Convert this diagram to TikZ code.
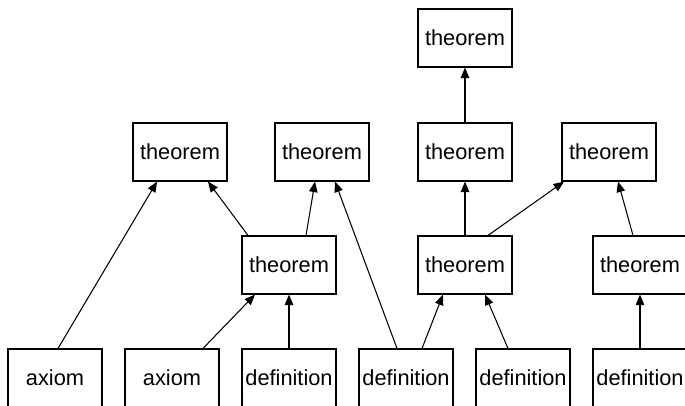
\documentclass[tikz,border=0pt]{standalone}
\usepackage{fontspec}
\setmainfont{Liberation Sans}
\usetikzlibrary{arrows.meta}
\tikzset{
  stmt/.style={draw,line width=0.65pt,minimum width=1.88cm,minimum height=1.16cm,inner sep=0pt,font=\fontsize{12.4}{14}\selectfont},
  dep/.style={->,line width=0.6pt}
}

\begin{document}
\begin{tikzpicture}[x=0.02cm,y=-0.02cm,line join=miter,>={Triangle[length=0.21cm,width=0.17cm]}]
  \clip (0,0) rectangle (685,405);
  % top level
  \node[stmt] (r1) at (465,38) {theorem};
  % second level
  \node[stmt] (r2a) at (180,152) {theorem};
  \node[stmt] (r2b) at (322,152) {theorem};
  \node[stmt] (r2c) at (465,152) {theorem};
  \node[stmt] (r2d) at (609,152) {theorem};
  % third level
  \node[stmt] (r3a) at (289,265) {theorem};
  \node[stmt] (r3b) at (465,265) {theorem};
  \node[stmt] (r3c) at (640,265) {theorem};
  % axioms and definitions, cut off at the bottom
  \node[stmt] (ax1) at (55,378) {axiom};
  \node[stmt] (ax2) at (172,378) {axiom};
  \node[stmt] (df1) at (289,378) {definition};
  \node[stmt] (df2) at (406,378) {definition};
  \node[stmt] (df3) at (523,378) {definition};
  \node[stmt] (df4) at (640,378) {definition};
  % dependencies
  \draw[dep] ([xshift=0.06cm]ax1.north) -- ([xshift=-0.46cm]r2a.south);
  \draw[dep] ([xshift=-0.82cm]r3a.north) -- ([xshift=0.56cm]r2a.south);
  \draw[dep] ([xshift=0.34cm]r3a.north) -- ([xshift=-0.14cm]r2b.south);
  \draw[dep] ([xshift=-0.18cm]df2.north) -- ([xshift=0.26cm]r2b.south);
  \draw[dep] ([xshift=0.62cm]ax2.north) -- ([xshift=-0.68cm]r3a.south);
  \draw[dep] (df1.north) -- (r3a.south);
  \draw[dep] ([xshift=0.32cm]df2.north) -- ([xshift=-0.44cm]r3b.south);
  \draw[dep] ([xshift=-0.3cm]df3.north) -- ([xshift=0.4cm]r3b.south);
  \draw[dep] (df4.north) -- (r3c.south);
  \draw[dep] (r3b.north) -- (r2c.south);
  \draw[dep] ([xshift=0.46cm]r3b.north) -- ([xshift=-0.9cm]r2d.south);
  \draw[dep] ([xshift=-0.14cm]r3c.north) -- ([xshift=0.18cm]r2d.south);
  \draw[dep] (r2c.north) -- (r1.south);
\end{tikzpicture}
\end{document}
